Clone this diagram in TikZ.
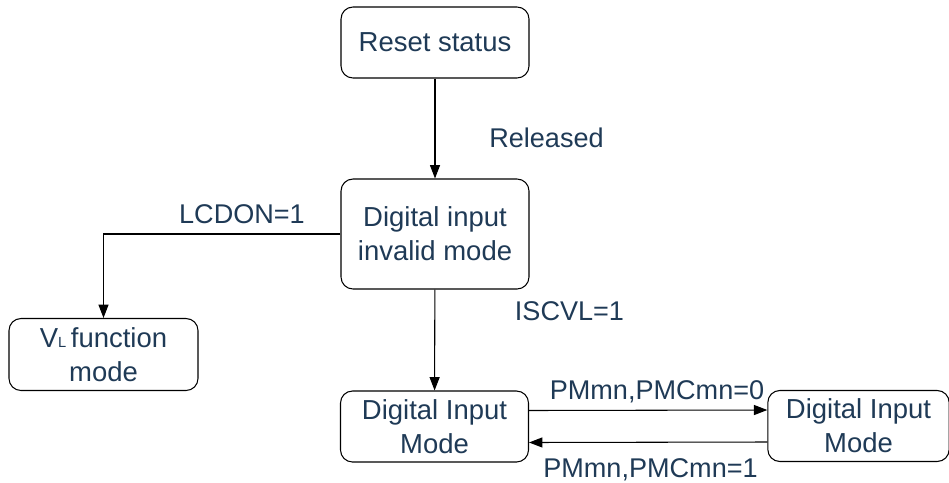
\documentclass[tikz,border=0pt]{standalone}
\usepackage{fontspec}
\setmainfont{Liberation Sans}
\usetikzlibrary{arrows.meta, positioning}
\definecolor{ctext}{HTML}{1F3A56}
\tikzset{
  every picture/.style={line width=0.8pt},
  modebox/.style={draw=black, rounded corners=9pt, align=center, text=ctext, font=\fontsize{20.6}{25.5}\selectfont, minimum width=141pt, minimum height=53.25pt, inner sep=2pt},
  arrow/.style={-{Triangle[length=10pt, width=7.5pt]}, draw=black},
  cond/.style={text=ctext, font=\fontsize{20.3}{24}\selectfont, inner sep=0pt, anchor=base},
}

\begin{document}
\begin{tikzpicture}[x=0.75pt, y=-0.75pt]
  \useasboundingbox (0,0) rectangle (949,482);
  % states
  \node[modebox] (reset) at (435,42.5) {Reset status};
  \node[modebox, minimum height=82.5pt] (invalid) at (435,234) {Digital input\\invalid mode};
  \node[modebox, minimum width=141.75pt, minimum height=54pt] (vl) at (103.5,354.5) {V{\fontsize{11}{11}\selectfont L}\,function\\mode};
  \node[modebox] (dimA) at (434.5,426.5) {Digital Input\\Mode};
  \node[modebox, minimum width=136pt] (dimB) at (858.5,426) {Digital Input\\Mode};
  % transitions
  \draw[arrow] (reset) -- (invalid);
  \draw[arrow] (invalid.west) -| (vl.north);
  \draw[arrow] (invalid) -- (dimA);
  \draw[arrow] ([yshift=12pt]dimA.east) -- ([yshift=12pt]dimB.west);
  \draw[arrow] ([yshift=-12pt]dimB.west) -- ([yshift=-12pt]dimA.east);
  % conditions
  \node[cond] (released) at (546.5,147) {Released};
  \node[cond] (lcdon) at (242,223) {LCDON=1};
  \node[cond] (iscvl) at (569.5,320) {ISCVL=1};
  \node[cond] (pm0) at (657,399) {PMmn,PMCmn=0};
  \node[cond] (pm1) at (650.5,477) {PMmn,PMCmn=1};
\end{tikzpicture}
\end{document}
